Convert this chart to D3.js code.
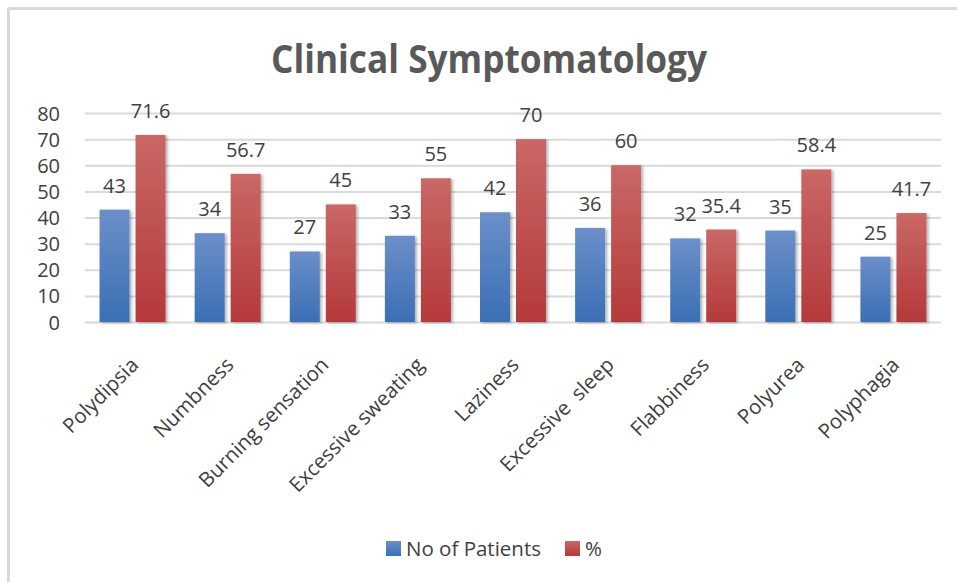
<!DOCTYPE html>
<html><head><meta charset="utf-8">
<script src="https://cdn.jsdelivr.net/npm/d3@7"></script>
<style>body{margin:0;background:#fff}svg{display:block}</style>
</head><body>
<svg id="chart" width="957" height="583"></svg>
<script>
const categories = ["Polydipsia","Numbness","Burning sensation","Excessive sweating","Laziness","Excessive  sleep","Flabbiness","Polyurea","Polyphagia"];
const patients = [43,34,27,33,42,36,32,35,25];
const percent = [71.6,56.7,45,55,70,60,35.4,58.4,41.7];
const seriesNames = ["No of Patients","%"];
const yTicks = [0,10,20,30,40,50,60,70,80];

const svg = d3.select("#chart");
const W = 957, H = 583;
const m = {left:85, right:941, top:113, bottom:322};
const font = "'Open Sans', 'Liberation Sans', sans-serif";
const textCol = "#404040";

const defs = svg.append("defs");
function grad(id, top, bot){
  const g = defs.append("linearGradient").attr("id",id).attr("x1",0).attr("y1",0).attr("x2",0).attr("y2",1);
  g.append("stop").attr("offset","0%").attr("stop-color",top);
  g.append("stop").attr("offset","100%").attr("stop-color",bot);
}
grad("gBlue","#6b8fc9","#3b6fb4");
grad("gRed","#c96866","#b5393a");
const f = defs.append("filter").attr("id","sh").attr("x","-20%").attr("y","-10%").attr("width","150%").attr("height","130%");
f.append("feDropShadow").attr("dx",2).attr("dy",1).attr("stdDeviation",1.5).attr("flood-color","#000").attr("flood-opacity",0.3);

// frame
svg.append("line").attr("x1",8).attr("x2",W).attr("y1",8.5).attr("y2",8.5).attr("stroke","#d9d9d9").attr("stroke-width",3);
svg.append("line").attr("x1",8.5).attr("x2",8.5).attr("y1",8).attr("y2",582).attr("stroke","#d9d9d9").attr("stroke-width",3);

svg.append("text").attr("x",489).attr("y",73).attr("text-anchor","middle")
  .attr("font-family",font).attr("font-weight","bold").attr("font-size",40)
  .attr("textLength",436).attr("lengthAdjust","spacingAndGlyphs")
  .attr("fill","#595959").text("Clinical Symptomatology");

const x = d3.scaleBand().domain(categories).range([m.left,m.right]).paddingInner(0.0).paddingOuter(0);
const y = d3.scaleLinear().domain([0,80]).range([m.bottom,m.top]);

// grid
const yAxis = d3.axisLeft(y).tickValues(yTicks).tickSize(-(m.right-m.left)).tickPadding(25);
const ga = svg.append("g").attr("transform",`translate(${m.left},0)`).call(yAxis);
ga.select(".domain").remove();
ga.selectAll(".tick line").attr("stroke","#d9d9d9").attr("stroke-width",2);
ga.selectAll(".tick text").attr("font-family",font).attr("font-size",20).attr("fill",textCol).attr("dy","0.35em");

const barW = 30, gap = 6;
const sub = d3.scaleOrdinal().domain([0,1]).range([-(barW+gap/2), gap/2]);
const seriesData = [patients, percent];
const fills = ["url(#gBlue)","url(#gRed)"];
seriesData.forEach((vals, si)=>{
  svg.append("g").selectAll("rect").data(vals).join("rect")
    .attr("x",(d,i)=>x(categories[i])+x.bandwidth()/2+sub(si))
    .attr("y",d=>y(d)).attr("width",barW).attr("height",d=>y(0)-y(d))
    .attr("fill",fills[si]).attr("filter","url(#sh)");
  svg.append("g").selectAll("text").data(vals).join("text")
    .attr("x",(d,i)=>x(categories[i])+x.bandwidth()/2+sub(si)+barW/2)
    .attr("y",d=>y(d)-17).attr("text-anchor","middle")
    .attr("font-family",font).attr("font-size",20).attr("fill",textCol)
    .text(d=>d);
});

// x labels
svg.append("g").selectAll("text").data(categories).join("text")
  .attr("transform",d=>`translate(${x(d)+x.bandwidth()/2-3},${m.bottom+34}) rotate(-45)`)
  .attr("text-anchor","end").attr("font-family",font).attr("font-size",20.5).attr("fill",textCol)
  .style("white-space","pre")
  .attr("dy","0.7em").text(d=>d);

// legend
const lg = svg.append("g");
const lx = [386, 565];
seriesNames.forEach((n,i)=>{
  lg.append("rect").attr("x",lx[i]).attr("y",541).attr("width",15).attr("height",15).attr("fill",fills[i]);
  lg.append("text").attr("x",lx[i]+20).attr("y",548.5).attr("dy","0.35em")
    .attr("font-family",font).attr("font-size",20.5).attr("fill",textCol).text(n);
});
</script>
</body></html>
